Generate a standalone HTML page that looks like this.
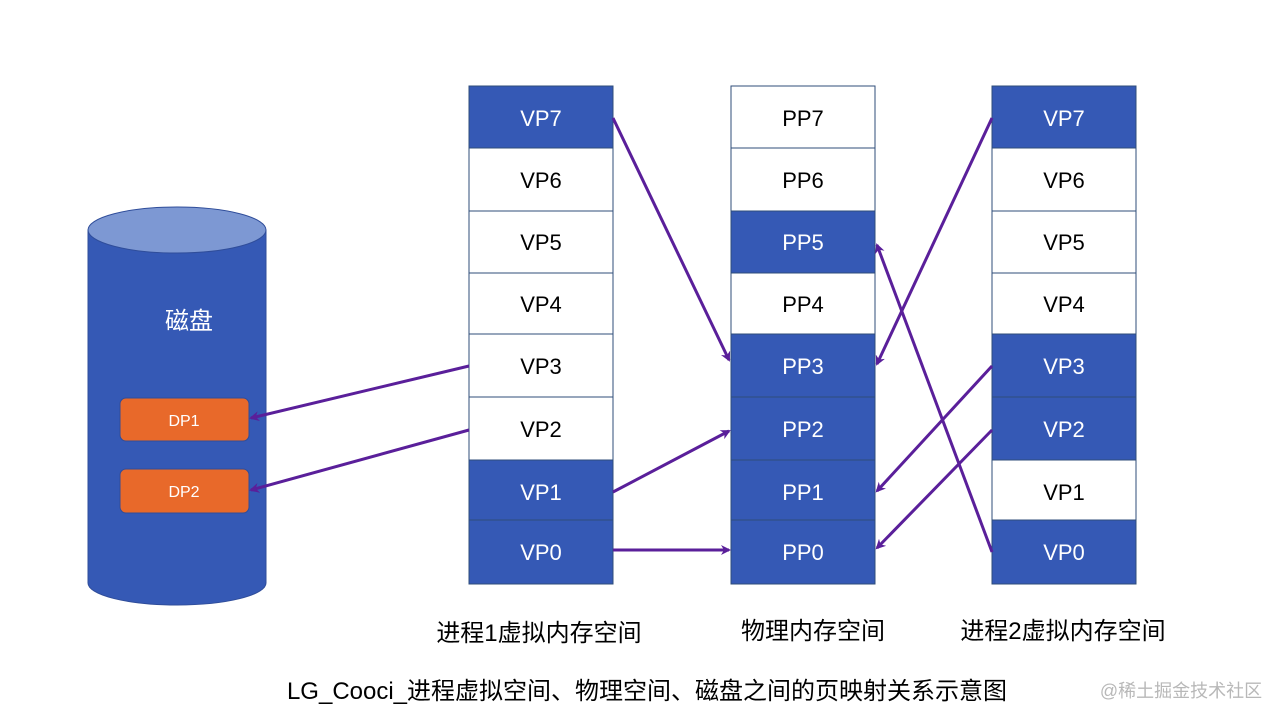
<!DOCTYPE html>
<html><head><meta charset="utf-8"><style>
body{margin:0;background:#fff;}
svg text{font-family:"Liberation Sans","Noto Sans CJK SC",sans-serif;}
</style></head><body>
<svg width="1280" height="722" viewBox="0 0 1280 722" xmlns="http://www.w3.org/2000/svg">
<defs>
<marker id="a" markerWidth="10" markerHeight="10" refX="8" refY="5" orient="auto" markerUnits="userSpaceOnUse"><path d="M0,0 L10,5 L0,10 L3,5 Z" fill="#5a1f9a"/></marker>
</defs>
<rect width="1280" height="722" fill="#fff"/>
<path d="M88,230 L88,583 A89,22 0 0 0 266,583 L266,230 Z" fill="#3559b5" stroke="#2f4d9a" stroke-width="1"/>
<ellipse cx="177" cy="230" rx="89" ry="23" fill="#7d98d3" stroke="#2f4d9a" stroke-width="1"/>
<text x="189" y="329" font-size="24" fill="#fff" text-anchor="middle">磁盘</text>
<rect x="120" y="398" width="129" height="43" rx="6" fill="#e8692a" stroke="#2f4d9a"/>
<text x="184" y="426" font-size="16" fill="#fff" text-anchor="middle">DP1</text>
<rect x="120" y="469" width="129" height="44" rx="6" fill="#e8692a" stroke="#2f4d9a"/>
<text x="184" y="497" font-size="16" fill="#fff" text-anchor="middle">DP2</text>
<g font-size="22" text-anchor="middle">
<g stroke="#2f4d7a" stroke-width="1">
<rect x="469" y="86" width="144" height="62" fill="#3559b5"/>
<rect x="469" y="148" width="144" height="63" fill="#fff"/>
<rect x="469" y="211" width="144" height="62" fill="#fff"/>
<rect x="469" y="273" width="144" height="61" fill="#fff"/>
<rect x="469" y="334" width="144" height="63" fill="#fff"/>
<rect x="469" y="397" width="144" height="63" fill="#fff"/>
<rect x="469" y="460" width="144" height="60" fill="#3559b5"/>
<rect x="469" y="520" width="144" height="64" fill="#3559b5"/>
<rect x="731" y="86" width="144" height="62" fill="#fff"/>
<rect x="731" y="148" width="144" height="63" fill="#fff"/>
<rect x="731" y="211" width="144" height="62" fill="#3559b5"/>
<rect x="731" y="273" width="144" height="61" fill="#fff"/>
<rect x="731" y="334" width="144" height="63" fill="#3559b5"/>
<rect x="731" y="397" width="144" height="63" fill="#3559b5"/>
<rect x="731" y="460" width="144" height="60" fill="#3559b5"/>
<rect x="731" y="520" width="144" height="64" fill="#3559b5"/>
<rect x="992" y="86" width="144" height="62" fill="#3559b5"/>
<rect x="992" y="148" width="144" height="63" fill="#fff"/>
<rect x="992" y="211" width="144" height="62" fill="#fff"/>
<rect x="992" y="273" width="144" height="61" fill="#fff"/>
<rect x="992" y="334" width="144" height="63" fill="#3559b5"/>
<rect x="992" y="397" width="144" height="63" fill="#3559b5"/>
<rect x="992" y="460" width="144" height="60" fill="#fff"/>
<rect x="992" y="520" width="144" height="64" fill="#3559b5"/>
</g>
<text x="541" y="126" fill="#fff">VP7</text><text x="541" y="188">VP6</text><text x="541" y="250">VP5</text><text x="541" y="312">VP4</text><text x="541" y="374">VP3</text><text x="541" y="437">VP2</text><text x="541" y="500" fill="#fff">VP1</text><text x="541" y="560" fill="#fff">VP0</text>
<text x="803" y="126">PP7</text><text x="803" y="188">PP6</text><text x="803" y="250" fill="#fff">PP5</text><text x="803" y="312">PP4</text><text x="803" y="374" fill="#fff">PP3</text><text x="803" y="437" fill="#fff">PP2</text><text x="803" y="500" fill="#fff">PP1</text><text x="803" y="560" fill="#fff">PP0</text>
<text x="1064" y="126" fill="#fff">VP7</text><text x="1064" y="188">VP6</text><text x="1064" y="250">VP5</text><text x="1064" y="312">VP4</text><text x="1064" y="374" fill="#fff">VP3</text><text x="1064" y="437" fill="#fff">VP2</text><text x="1064" y="500">VP1</text><text x="1064" y="560" fill="#fff">VP0</text>
</g>
<g stroke="#5a1f9a" stroke-width="3" fill="none" marker-end="url(#a)">
<line x1="613" y1="118" x2="729" y2="360"/>
<line x1="469" y1="366" x2="251" y2="418"/>
<line x1="469" y1="430" x2="251" y2="490"/>
<line x1="613" y1="492" x2="729" y2="431"/>
<line x1="613" y1="550" x2="729" y2="550"/>
<line x1="992" y1="118" x2="877" y2="364"/>
<line x1="992" y1="552" x2="877" y2="245"/>
<line x1="992" y1="366" x2="877" y2="491"/>
<line x1="992" y1="430" x2="877" y2="548"/>
</g>
<g font-size="24" text-anchor="middle" fill="#000">
<text x="539" y="641">进程1虚拟内存空间</text>
<text x="813" y="639">物理内存空间</text>
<text x="1063" y="639">进程2虚拟内存空间</text>
<text x="647" y="699">LG_Cooci_进程虚拟空间、物理空间、磁盘之间的页映射关系示意图</text>
</g>
<text x="1181" y="697" font-size="18" fill="#b8b8b8" text-anchor="middle">@稀土掘金技术社区</text>
</svg>
</body></html>
